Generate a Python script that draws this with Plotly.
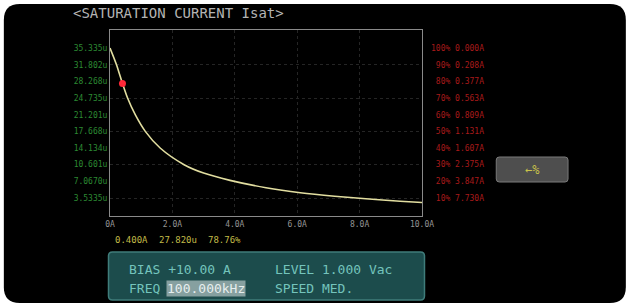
import plotly.graph_objects as go

# ---------------- data ----------------
current_A = [0.0, 0.208, 0.377, 0.4, 0.563, 0.809, 1.131, 1.607, 2.375, 3.0,
             3.847, 5.0, 6.1, 7.2, 8.2, 9.3, 10.0]
inductance_uH = [35.335, 31.802, 28.268, 27.820, 24.735, 21.201, 17.668, 14.134,
                 10.601, 8.83, 7.28, 5.72, 4.66, 3.92, 3.39, 2.86, 2.58]

cursor_A = 0.400
cursor_uH = 27.820
cursor_pct = 78.76

x_ticks = [0, 2, 4, 6, 8, 10]
x_labels = ["0A", "2.0A", "4.0A", "6.0A", "8.0A", "10.0A"]

left_vals = [35.335, 31.802, 28.268, 24.735, 21.201, 17.668, 14.134, 10.601, 7.067, 3.5335]
left_labels = ["35.335u", "31.802u", "28.268u", "24.735u", "21.201u",
               "17.668u", "14.134u", "10.601u", "7.0670u", "3.5335u"]
pct_levels = [100, 90, 80, 70, 60, 50, 40, 30, 20, 10]
pct_currents = ["0.000", "0.208", "0.377", "0.563", "0.809",
                "1.131", "1.607", "2.375", "3.847", "7.730"]

title_text = "<SATURATION CURRENT Isat>"
bias_text = "BIAS +10.00 A"
level_text = "LEVEL 1.000 Vac"
freq_label = "FREQ"
freq_value = "100.000kHz"
speed_text = "SPEED MED."

# ---------------- layout helpers ----------------
W, H = 630, 307
L_PX, R_PX, T_PX, B_PX = 109.5, 422.5, 30, 216
PW, PH = R_PX - L_PX, B_PX - T_PX
MONO = "DejaVu Sans Mono"
Y_RANGE = [-0.28, 39.16]


def fx(px):
    return (px - L_PX) / PW


def fy(py):
    return (B_PX - py) / PH


def rrect(x0, y0, x1, y1, r):
    X0, X1, Y0, Y1 = fx(x0), fx(x1), fy(y0), fy(y1)
    rx, ry = r / PW, r / PH
    return (f"M {X0+rx},{Y0} L {X1-rx},{Y0} Q {X1},{Y0} {X1},{Y0-ry} "
            f"L {X1},{Y1+ry} Q {X1},{Y1} {X1-rx},{Y1} L {X0+rx},{Y1} "
            f"Q {X0},{Y1} {X0},{Y1+ry} L {X0},{Y0-ry} Q {X0},{Y0} {X0+rx},{Y0} Z")


right_labels = [f"{p:>3d}%\u00a0{c}A".replace(" ", "\u00a0") for p, c in zip(pct_levels, pct_currents)]
grid_levels = left_vals[1::2]

fig = go.Figure()
fig.add_trace(go.Scatter(
    x=current_A, y=inductance_uH, mode="lines",
    line=dict(color="#e2dea0", width=1.6, shape="spline", smoothing=0.8),
    hoverinfo="skip", showlegend=False))
fig.add_trace(go.Scatter(
    x=[cursor_A], y=[cursor_uH], mode="markers",
    marker=dict(color="#ff2838", size=7), hoverinfo="skip", showlegend=False))
fig.add_trace(go.Scatter(x=[0], y=[0], yaxis="y2", mode="markers",
                         marker=dict(opacity=0), hoverinfo="skip", showlegend=False))
fig.add_trace(go.Scatter(x=[0], y=[0], yaxis="y3", mode="markers",
                         marker=dict(opacity=0), hoverinfo="skip", showlegend=False))

shapes = [
    dict(type="path", xref="paper", yref="paper", path=rrect(3, 4, 627, 303, 16),
         fillcolor="#000000", line=dict(width=0), layer="below"),
    dict(type="path", xref="paper", yref="paper", path=rrect(108, 252, 425, 300, 4),
         fillcolor="#1c4c4c", line=dict(color="#3f7c7a", width=1.5), layer="above"),
    dict(type="path", xref="paper", yref="paper", path=rrect(497, 157, 569, 182, 3),
         fillcolor="#4e4e4e", line=dict(color="#7a7a7a", width=1), layer="above"),
]

ann = [
    dict(text=title_text, x=fx(70), y=fy(13), xanchor="left", yanchor="middle",
         font=dict(family=MONO, size=14, color="#b4b4b4")),
    dict(text=f"{cursor_A:.3f}A", x=fx(131), y=fy(240), xanchor="center", yanchor="middle",
         font=dict(family=MONO, size=9, color="#c2bb48")),
    dict(text=f"{cursor_uH:.3f}u", x=fx(178), y=fy(240), xanchor="center", yanchor="middle",
         font=dict(family=MONO, size=9, color="#c2bb48")),
    dict(text=f"{cursor_pct:.2f}%", x=fx(224), y=fy(240), xanchor="center", yanchor="middle",
         font=dict(family=MONO, size=9, color="#c2bb48")),
    dict(text=bias_text, x=fx(127), y=fy(269), xanchor="left", yanchor="middle",
         font=dict(family=MONO, size=13, color="#74c4bc")),
    dict(text=level_text, x=fx(273), y=fy(269), xanchor="left", yanchor="middle",
         font=dict(family=MONO, size=13, color="#74c4bc")),
    dict(text=freq_label, x=fx(127), y=fy(288), xanchor="left", yanchor="middle",
         font=dict(family=MONO, size=13, color="#74c4bc")),
    dict(text=freq_value, x=fx(166), y=fy(288), xanchor="left", yanchor="middle",
         bgcolor="#86a0a0", borderpad=0,
         font=dict(family=MONO, size=13, color="#e6eeee")),
    dict(text=speed_text, x=fx(273), y=fy(288), xanchor="left", yanchor="middle",
         font=dict(family=MONO, size=13, color="#74c4bc")),
    dict(text="\u2190%", x=fx(533), y=fy(169.5), xanchor="center", yanchor="middle",
         font=dict(family=MONO, size=12, color="#c9c24a")),
]
for a in ann:
    a.update(xref="paper", yref="paper", showarrow=False)

GRID = "#252525"
fig.update_layout(
    width=W, height=H,
    margin=dict(l=L_PX, r=W - R_PX, t=T_PX, b=H - B_PX, pad=0),
    paper_bgcolor="#ffffff", plot_bgcolor="#000000",
    showlegend=False,
    shapes=shapes, annotations=ann,
    xaxis=dict(range=[0, 10], tickvals=x_ticks, ticktext=x_labels,
               showgrid=True, gridcolor=GRID, griddash="dot", gridwidth=1,
               zeroline=False, showline=True, mirror=True, linecolor="#8a8a8a", linewidth=1,
               ticks="", tickfont=dict(family=MONO, size=8, color="#959595"),
               fixedrange=True),
    yaxis=dict(range=Y_RANGE, tickvals=left_vals, ticktext=left_labels,
               showgrid=False, zeroline=False, showline=True, mirror=True,
               linecolor="#8a8a8a", linewidth=1, ticks="",
               tickfont=dict(family=MONO, size=8, color="#2c8a33")),
    yaxis2=dict(range=Y_RANGE, overlaying="y", side="right",
                tickvals=left_vals, ticktext=right_labels,
                showgrid=False, zeroline=False, showline=False, ticks="",
                ticklabelstandoff=8,
                tickfont=dict(family=MONO, size=8, color="#a81a1a")),
    yaxis3=dict(range=Y_RANGE, overlaying="y", tickvals=grid_levels,
                showticklabels=False, showgrid=True, gridcolor=GRID, griddash="dot",
                zeroline=False, showline=False, ticks=""),
)

fig.write_html("out.html", config={"displayModeBar": False},
               post_script="document.body.style.margin='0';document.body.style.overflow='hidden';")
